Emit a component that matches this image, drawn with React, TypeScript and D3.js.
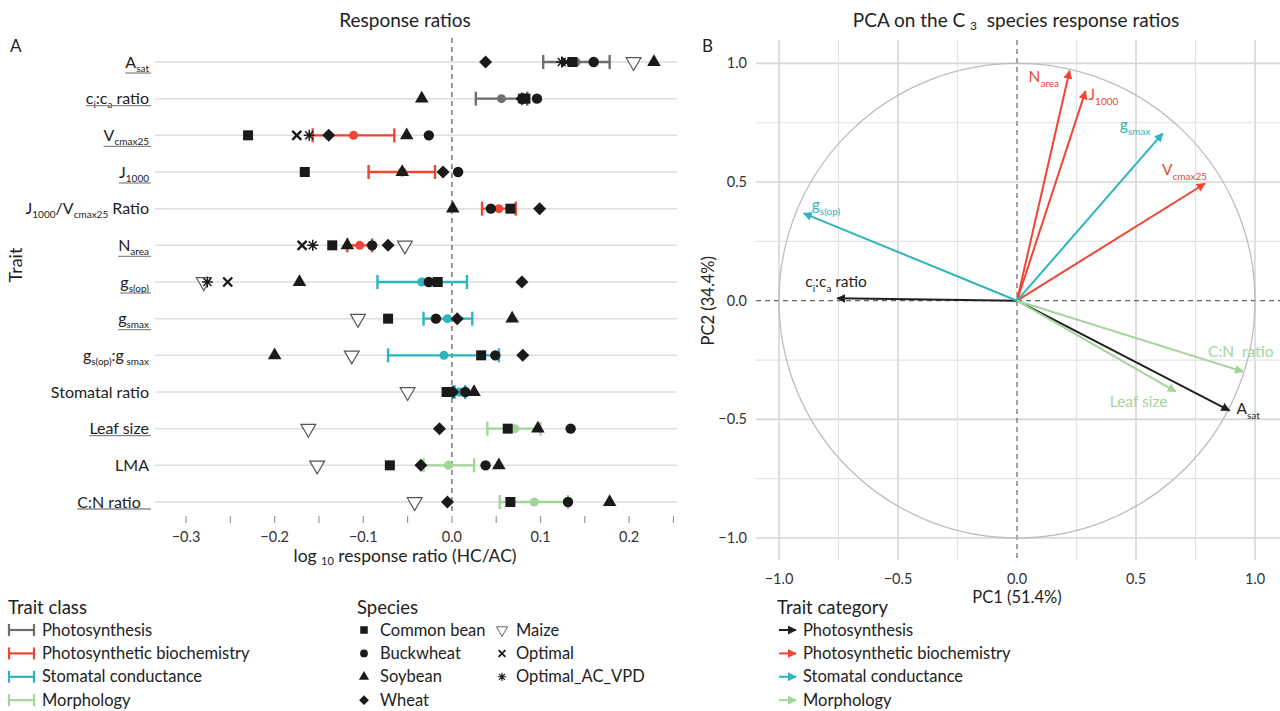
import React, { useEffect, useRef } from "react";
import * as d3 from "d3";

const W = 1280;
const H = 711;
const FONT = "Lato, 'Open Sans', sans-serif";

// ---------- Panel A data ----------
const traits = [
  "A_sat", "ci:ca ratio", "Vcmax25", "J1000", "J1000/Vcmax25 Ratio", "N_area",
  "gs(op)", "gsmax", "gs(op):gsmax", "Stomatal ratio", "Leaf size", "LMA", "C:N ratio",
];
type Seg = [string, boolean];
const traitLabels: Seg[][] = [
  [["A", false], ["sat", true]],
  [["c", false], ["i", true], [":c", false], ["a", true], [" ratio", false]],
  [["V", false], ["cmax25", true]],
  [["J", false], ["1000", true]],
  [["J", false], ["1000", true], ["/V", false], ["cmax25", true], [" Ratio", false]],
  [["N", false], ["area", true]],
  [["g", false], ["s(op)", true]],
  [["g", false], ["smax", true]],
  [["g", false], ["s(op)", true], [":g", false], [" smax", true]],
  [["Stomatal ratio", false]],
  [["Leaf size", false]],
  [["LMA", false]],
  [["C:N ratio\u00a0\u00a0", false]],
];
const traitUnderlined = [true, true, true, true, false, true, true, true, false, false, true, false, true];
const traitClassIndex = [0, 0, 1, 1, 1, 1, 2, 2, 2, 2, 3, 3, 3];

const classNames = ["Photosynthesis", "Photosynthetic biochemistry", "Stomatal conductance", "Morphology"];
const classColors = ["#6d6e71", "#ee4632", "#2cb5bd", "#a3d49a"];
const arrowColors = ["#231f20", "#ee4632", "#2cb5bd", "#a3d49a"];

const classMean = [0.140, 0.056, -0.111, -0.056, 0.053, -0.104, -0.034, -0.005, -0.009, 0.008, 0.071, -0.004, 0.093];
const classLow = [0.103, 0.027, -0.157, -0.094, 0.034, -0.118, -0.084, -0.032, -0.072, 0.003, 0.040, -0.032, 0.054];
const classHigh = [0.178, 0.085, -0.065, -0.019, 0.072, -0.090, 0.017, 0.023, 0.053, 0.015, 0.100, 0.025, 0.131];

const N = null;
const commonBean = [0.136, 0.083, -0.230, -0.166, 0.066, -0.135, -0.016, -0.072, 0.033, -0.006, 0.063, -0.070, 0.066];
const buckwheat = [0.160, 0.096, -0.026, 0.007, 0.044, -0.090, -0.026, -0.018, 0.049, 0.015, 0.134, 0.038, 0.131];
const soybean = [0.228, -0.034, -0.051, -0.056, 0.001, -0.118, -0.172, 0.068, -0.200, 0.025, 0.097, 0.053, 0.178];
const wheat = [0.038, 0.079, -0.139, -0.010, 0.099, -0.072, 0.079, 0.006, 0.080, 0.001, -0.014, -0.035, -0.005];
const maize = [0.205, N, N, N, N, -0.053, -0.280, -0.106, -0.113, -0.050, -0.162, -0.152, -0.042];
const optimal = [0.129, 0.080, -0.175, N, N, -0.169, -0.253, N, N, N, N, N, N];
const optimalAcVpd = [0.124, 0.081, -0.161, N, N, -0.157, -0.276, N, N, N, N, N, N];

const speciesNames = ["Common bean", "Buckwheat", "Soybean", "Wheat", "Maize", "Optimal", "Optimal_AC_VPD"];
const speciesShapes = ["square", "circle", "triangle", "diamond", "maize", "times", "asterisk"];
const speciesValues = [commonBean, buckwheat, soybean, wheat, maize, optimal, optimalAcVpd];

const xTicks = [-0.3, -0.25, -0.2, -0.15, -0.1, -0.05, 0, 0.05, 0.1, 0.15, 0.2, 0.25];
const xTickLabels = [-0.3, -0.2, -0.1, 0, 0.1, 0.2];

// ---------- Panel B data ----------
const pcaTraits = ["A_sat", "ci:ca ratio", "Vcmax25", "J1000", "N_area", "gs(op)", "gsmax", "Leaf size", "C:N ratio"];
const pcaLabels: Seg[][] = [
  [["A", false], ["sat", true]],
  [["c", false], ["i", true], [":c", false], ["a", true], [" ratio", false]],
  [["V", false], ["cmax25", true]],
  [["J", false], ["1000", true]],
  [["N", false], ["area", true]],
  [["g", false], ["s(op)", true]],
  [["g", false], ["smax", true]],
  [["Leaf size", false]],
  [["C:N  ratio", false]],
];
const pc1 = [0.893, -0.755, 0.790, 0.288, 0.221, -0.896, 0.612, 0.667, 0.950];
const pc2 = [-0.463, 0.010, 0.494, 0.883, 0.969, 0.368, 0.705, -0.383, -0.299];
const pcaClass = [0, 0, 1, 1, 1, 2, 2, 3, 3];
// label offsets from arrow tip (pixels)
const pcaLabelDx = [7, -32, -43, 3, -41, 8, -43, -66, -35];
const pcaLabelDy = [3, -11, -8, 9, 11, -3, -3, 15, -15];
const pcTicks = [-1, -0.5, 0, 0.5, 1];
const pcMinor = [-0.75, -0.25, 0.25, 0.75];

function richText(
  g: any, x: number, y: number, segs: Seg[], size: number, subSize: number,
  anchor: string, fill: string, subDy = 4
) {
  const t = g.append("text")
    .attr("x", x).attr("y", y)
    .attr("text-anchor", anchor)
    .attr("font-size", size)
    .attr("fill", fill)
    .style("white-space", "pre");
  let inSub = false;
  segs.forEach(([s, isSub]) => {
    const ts = t.append("tspan").text(s);
    if (isSub) ts.attr("font-size", subSize);
    if (isSub && !inSub) ts.attr("dy", subDy);
    if (!isSub && inSub) ts.attr("dy", -subDy);
    inSub = isSub;
  });
  return { t, endsSub: inSub };
}

function drawMarker(g: any, shape: string, x: number, y: number) {
  const black = "#1a1a1a";
  if (shape === "square") {
    g.append("path").attr("d", d3.symbol(d3.symbolSquare, 100)()).attr("transform", `translate(${x},${y})`).attr("fill", black);
  } else if (shape === "circle") {
    g.append("path").attr("d", d3.symbol(d3.symbolCircle, 85)()).attr("transform", `translate(${x},${y})`).attr("fill", black);
  } else if (shape === "triangle") {
    g.append("path").attr("d", d3.symbol(d3.symbolTriangle, 80)()).attr("transform", `translate(${x},${y})`).attr("fill", black);
  } else if (shape === "diamond") {
    g.append("path").attr("d", d3.symbol(d3.symbolSquare, 85)()).attr("transform", `translate(${x},${y}) rotate(45)`).attr("fill", black);
  } else if (shape === "maize") {
    g.append("path").attr("d", d3.symbol(d3.symbolTriangle, 95)()).attr("transform", `translate(${x},${y}) rotate(180)`)
      .attr("fill", "white").attr("stroke", "#555").attr("stroke-width", 1.2);
  } else if (shape === "times") {
    const s = 4.5;
    g.append("path").attr("d", `M${x - s},${y - s}L${x + s},${y + s}M${x - s},${y + s}L${x + s},${y - s}`)
      .attr("stroke", black).attr("stroke-width", 2.4).attr("fill", "none");
  } else if (shape === "asterisk") {
    const s = 5.5, d = 4;
    g.append("path").attr("d",
      `M${x - s},${y}L${x + s},${y}M${x},${y - s}L${x},${y + s}M${x - d},${y - d}L${x + d},${y + d}M${x - d},${y + d}L${x + d},${y - d}`)
      .attr("stroke", black).attr("stroke-width", 1.5).attr("fill", "none");
  }
}

export default function App() {
  const ref = useRef<SVGSVGElement | null>(null);
  useEffect(() => {
    document.body.style.margin = "0";
    const svg = d3.select(ref.current);
    svg.selectAll("*").remove();
    svg.attr("font-family", FONT);

    // ================= Panel A =================
    const gA = svg.append("g");
    const x = d3.scaleLinear().domain([-0.335, 0.254]).range([155, 677]);
    const y = d3.scalePoint().domain(traits).range([62, 502]);

    gA.append("text").attr("x", 405).attr("y", 27).attr("text-anchor", "middle")
      .attr("font-size", 19).attr("fill", "#222").text("Response ratios");
    gA.append("text").attr("x", 10).attr("y", 52).attr("font-size", 17).attr("fill", "#222").text("A");

    // gridlines
    gA.selectAll(".hg").data(traits).join("line")
      .attr("x1", 155).attr("x2", 677)
      .attr("y1", (d: string) => y(d)!).attr("y2", (d: string) => y(d)!)
      .attr("stroke", "#dedede").attr("stroke-width", 1.5);

    // zero dashed
    gA.append("line").attr("x1", x(0)).attr("x2", x(0)).attr("y1", 38).attr("y2", 514)
      .attr("stroke", "#555").attr("stroke-width", 1.2).attr("stroke-dasharray", "5,4");

    // ticks
    gA.selectAll(".tk").data(xTicks).join("line")
      .attr("x1", (d: number) => x(d)).attr("x2", (d: number) => x(d))
      .attr("y1", 516).attr("y2", 523).attr("stroke", "#999").attr("stroke-width", 1.2);
    const fmt = d3.format(".1f");
    gA.selectAll(".tl").data(xTickLabels).join("text")
      .attr("x", (d: number) => x(d)).attr("y", 542).attr("text-anchor", "middle")
      .attr("font-size", 14.5).attr("fill", "#333").text((d: number) => fmt(d));

    // axis titles
    const xt = gA.append("text").attr("x", 405).attr("y", 562).attr("text-anchor", "middle")
      .attr("font-size", 17.5).attr("fill", "#222").style("white-space", "pre");
    xt.append("tspan").text("log ");
    xt.append("tspan").attr("font-size", 11).attr("dy", 3).text("10");
    xt.append("tspan").attr("dy", -3).text(" response ratio (HC/AC)");
    gA.append("text").attr("transform", "translate(22,265) rotate(-90)").attr("text-anchor", "middle")
      .attr("font-size", 18).attr("fill", "#222").text("Trait");

    // row labels
    traits.forEach((tr, i) => {
      const yy = y(tr)! + 5.5;
      const { t, endsSub } = richText(gA, 149, yy, traitLabels[i], 16, 10, "end", "#222");
      if (traitUnderlined[i]) {
        const bb = (t.node() as SVGTextElement).getBBox();
        const uy = yy + (endsSub ? 5.5 : 1.5);
        gA.append("line").attr("x1", bb.x).attr("x2", 151).attr("y1", uy).attr("y2", uy)
          .attr("stroke", "#8a8a8a").attr("stroke-width", 1.3);
      }
    });

    // error bars + means
    traits.forEach((tr, i) => {
      const c = classColors[traitClassIndex[i]];
      const yy = y(tr)!;
      const x1 = x(classLow[i]), x2 = x(classHigh[i]);
      gA.append("line").attr("x1", x1).attr("x2", x2).attr("y1", yy).attr("y2", yy)
        .attr("stroke", c).attr("stroke-width", 2.4);
      [x1, x2].forEach((xx) => {
        gA.append("line").attr("x1", xx).attr("x2", xx).attr("y1", yy - 7).attr("y2", yy + 7)
          .attr("stroke", c).attr("stroke-width", 2.4);
      });
      gA.append("circle").attr("cx", x(classMean[i])).attr("cy", yy).attr("r", 4.5).attr("fill", c);
    });

    // species points
    speciesValues.forEach((vals, si) => {
      vals.forEach((v, i) => {
        if (v === null || v === undefined) return;
        drawMarker(gA, speciesShapes[si], x(v as number), y(traits[i])!);
      });
    });

    // legends A
    const lg = svg.append("g");
    lg.append("text").attr("x", 8).attr("y", 614).attr("font-size", 18.5).attr("fill", "#222").text("Trait class");
    classNames.forEach((n, i) => {
      const cy = 630 + i * 23.4;
      lg.append("line").attr("x1", 9).attr("x2", 34).attr("y1", cy).attr("y2", cy).attr("stroke", classColors[i]).attr("stroke-width", 2.2);
      [9, 34].forEach((xx) => lg.append("line").attr("x1", xx).attr("x2", xx).attr("y1", cy - 6).attr("y2", cy + 6)
        .attr("stroke", classColors[i]).attr("stroke-width", 2.2));
      lg.append("text").attr("x", 42).attr("y", cy + 5.5).attr("font-size", 16.5).attr("fill", "#222").text(n);
    });
    lg.append("text").attr("x", 357).attr("y", 614).attr("font-size", 18.5).attr("fill", "#222").text("Species");
    speciesNames.forEach((n, i) => {
      const col = i < 4 ? 0 : 1;
      const row = i < 4 ? i : i - 4;
      const cy = 630 + row * 23.4;
      const sx = col === 0 ? 364 : 502;
      const g2 = lg.append("g");
      drawMarker(g2, speciesShapes[i], sx, cy);
      g2.attr("transform", `translate(${sx * 0.25},${cy * 0.25}) scale(0.75)`);
      lg.append("text").attr("x", sx + (col === 0 ? 16 : 14)).attr("y", cy + 5.5).attr("font-size", 16.5).attr("fill", "#222").text(n);
    });

    // ================= Panel B =================
    const gB = svg.append("g");
    const px = d3.scaleLinear().domain([-1, 1]).range([779, 1255]);
    const py = d3.scaleLinear().domain([-1, 1]).range([538, 63.4]);

    const tt = gB.append("text").attr("x", 1016).attr("y", 27).attr("text-anchor", "middle")
      .attr("font-size", 19).attr("fill", "#222").style("white-space", "pre");
    tt.append("tspan").text("PCA on the C ");
    tt.append("tspan").attr("font-size", 12).attr("dy", 3).text("3");
    tt.append("tspan").attr("dy", -3).text("  species response ratios");
    gB.append("text").attr("x", 702).attr("y", 52).attr("font-size", 17).attr("fill", "#222").text("B");

    // grid
    const gridAll = [...pcTicks.filter((d) => d !== 0), ...pcMinor];
    gridAll.forEach((d) => {
      const major = pcTicks.includes(d);
      gB.append("line").attr("x1", px(d)).attr("x2", px(d)).attr("y1", 40).attr("y2", 560)
        .attr("stroke", major ? "#d6d6d6" : "#e3e3e3").attr("stroke-width", major ? 1.6 : 1.2);
      gB.append("line").attr("x1", 756).attr("x2", 1280).attr("y1", py(d)).attr("y2", py(d))
        .attr("stroke", major ? "#d6d6d6" : "#e3e3e3").attr("stroke-width", major ? 1.6 : 1.2);
    });
    gB.append("line").attr("x1", px(0)).attr("x2", px(0)).attr("y1", 40).attr("y2", 560)
      .attr("stroke", "#666").attr("stroke-width", 1.2).attr("stroke-dasharray", "5,4");
    gB.append("line").attr("x1", 756).attr("x2", 1280).attr("y1", py(0)).attr("y2", py(0))
      .attr("stroke", "#666").attr("stroke-width", 1.2).attr("stroke-dasharray", "5,4");

    // circle
    gB.append("ellipse").attr("cx", px(0)).attr("cy", py(0))
      .attr("rx", px(1) - px(0)).attr("ry", py(0) - py(1))
      .attr("fill", "none").attr("stroke", "#bdbdbd").attr("stroke-width", 1.3);

    // tick labels
    gB.selectAll(".xl").data(pcTicks).join("text")
      .attr("x", (d: number) => px(d)).attr("y", 584).attr("text-anchor", "middle")
      .attr("font-size", 14.5).attr("fill", "#333").text((d: number) => fmt(d));
    gB.selectAll(".yl").data(pcTicks).join("text")
      .attr("x", 747).attr("y", (d: number) => py(d) + 5).attr("text-anchor", "end")
      .attr("font-size", 14.5).attr("fill", "#333").text((d: number) => fmt(d));
    gB.append("text").attr("x", px(0)).attr("y", 603).attr("text-anchor", "middle")
      .attr("font-size", 16.5).attr("fill", "#222").text("PC1 (51.4%)");
    gB.append("text").attr("transform", `translate(714,${py(0)}) rotate(-90)`).attr("text-anchor", "middle")
      .attr("font-size", 16.5).attr("fill", "#222").text("PC2 (34.4%)");

    // arrow markers
    const defs = svg.append("defs");
    arrowColors.forEach((c, i) => {
      defs.append("marker").attr("id", `ah${i}`).attr("viewBox", "0 0 10 10")
        .attr("refX", 9).attr("refY", 5).attr("markerWidth", 9).attr("markerHeight", 9)
        .attr("markerUnits", "userSpaceOnUse").attr("orient", "auto")
        .append("path").attr("d", "M0,0L10,5L0,10Z").attr("fill", c);
    });

    pcaTraits.forEach((tr, i) => {
      const c = arrowColors[pcaClass[i]];
      const tx = px(pc1[i]), ty = py(pc2[i]);
      gB.append("line").attr("x1", px(0)).attr("y1", py(0)).attr("x2", tx).attr("y2", ty)
        .attr("stroke", c).attr("stroke-width", 2).attr("marker-end", `url(#ah${pcaClass[i]})`);
      richText(gB, tx + pcaLabelDx[i], ty + pcaLabelDy[i], pcaLabels[i], 15.5, 10, "start", c, 5);
    });

    // legend B
    gB.append("text").attr("x", 777).attr("y", 614).attr("font-size", 18.5).attr("fill", "#222").text("Trait category");
    classNames.forEach((n, i) => {
      const cy = 630 + i * 23.4;
      gB.append("line").attr("x1", 779).attr("x2", 796).attr("y1", cy).attr("y2", cy)
        .attr("stroke", arrowColors[i]).attr("stroke-width", 2).attr("marker-end", `url(#ah${i})`);
      gB.append("text").attr("x", 803).attr("y", cy + 5.5).attr("font-size", 16.5).attr("fill", "#222").text(n);
    });
  }, []);

  return <svg ref={ref} width={W} height={H} style={{ display: "block", background: "white" }} />;
}
